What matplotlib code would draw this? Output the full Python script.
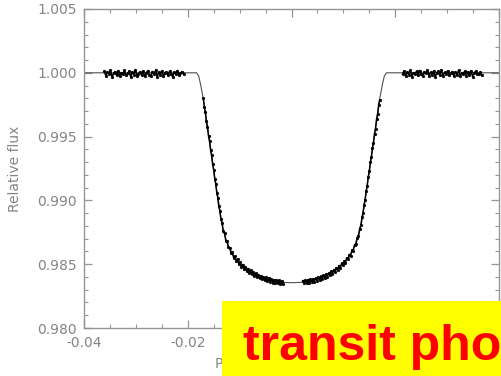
import matplotlib
matplotlib.use("Agg")
import matplotlib.pyplot as plt
from matplotlib.patches import Rectangle
from matplotlib.ticker import MultipleLocator, FormatStrFormatter

# ---------------- data ----------------
model_phase = [-0.0400, -0.0183, -0.0179, -0.0175, -0.0170, -0.0165, -0.0160, -0.0155,
               -0.0150, -0.0145, -0.0140, -0.0136, -0.0132, -0.0127, -0.0120, -0.0112,
               -0.0100, -0.0087, -0.0072, -0.0055, -0.0038, -0.0020, 0.0000,
               0.0020, 0.0038, 0.0055, 0.0072, 0.0087, 0.0100, 0.0112, 0.0120,
               0.0127, 0.0132, 0.0136, 0.0140, 0.0145, 0.0150, 0.0155, 0.0160,
               0.0165, 0.0170, 0.0175, 0.0179, 0.0183, 0.0400]
model_flux = [1.00000, 1.00000, 0.99975, 0.99905, 0.99795, 0.99655, 0.99515, 0.99375,
              0.99235, 0.99095, 0.98960, 0.98860, 0.98775, 0.98700, 0.98625, 0.98565,
              0.98505, 0.98460, 0.98420, 0.98390, 0.98370, 0.98358, 0.98355,
              0.98358, 0.98370, 0.98390, 0.98420, 0.98460, 0.98505, 0.98565, 0.98625,
              0.98700, 0.98775, 0.98860, 0.98960, 0.99095, 0.99235, 0.99375, 0.99515,
              0.99655, 0.99795, 0.99905, 0.99975, 1.00000, 1.00000]

pre_phase = [-0.0361, -0.0358, -0.0355, -0.0352, -0.0349, -0.0346, -0.0343, -0.0340,
             -0.0337, -0.0334, -0.0331, -0.0328, -0.0325, -0.0322, -0.0319, -0.0316,
             -0.0313, -0.0310, -0.0307, -0.0304, -0.0301, -0.0298, -0.0295, -0.0292,
             -0.0289, -0.0286, -0.0283, -0.0280, -0.0277, -0.0274, -0.0271, -0.0268,
             -0.0265, -0.0262, -0.0259, -0.0256, -0.0253, -0.0250, -0.0247, -0.0244,
             -0.0241, -0.0238, -0.0235, -0.0232, -0.0229, -0.0226, -0.0223, -0.0220,
             -0.0217, -0.0214, -0.0211, -0.0208]
pre_flux = [1.00012, 0.99978, 1.00004, 0.99991, 1.00021, 0.99969, 0.99995, 1.00009,
            0.99982, 1.00016, 0.99974, 1.00002, 0.99988, 1.00019, 0.99979, 0.99996,
            1.00011, 0.99968, 1.00006, 0.99985, 1.00023, 0.99976, 0.99993, 1.00008,
            0.99981, 1.00014, 0.99972, 0.99999, 1.00017, 0.99986, 0.99977, 1.00010,
            0.99990, 1.00020, 0.99971, 1.00003, 0.99984, 1.00015, 0.99975, 0.99998,
            1.00007, 0.99980, 1.00013, 0.99987, 0.99970, 1.00005, 0.99992, 1.00018,
            0.99983, 0.99997, 1.00009, 0.99988]

ingress_phase = [-0.0170, -0.0168, -0.0166, -0.0164, -0.0162, -0.0160, -0.0158, -0.0156,
                 -0.0154, -0.0152, -0.0150, -0.0148, -0.0146, -0.0144, -0.0142, -0.0140,
                 -0.0138, -0.0136,
                 -0.0134, -0.01315, -0.0129, -0.01265, -0.0124, -0.01215, -0.0119, -0.01165,
                 -0.0114, -0.01115, -0.0109, -0.01065, -0.0104, -0.01015, -0.0099, -0.00965,
                 -0.0094, -0.00915, -0.0089, -0.00865, -0.0084, -0.00815, -0.0079, -0.00765,
                 -0.0074, -0.00715, -0.0069, -0.00665, -0.0064, -0.00615, -0.0059, -0.00565,
                 -0.0054, -0.00515, -0.0049, -0.00465, -0.0044, -0.00415, -0.0039, -0.00365,
                 -0.0034, -0.00315, -0.0029, -0.00265, -0.0024, -0.00215, -0.0019, -0.00165]
ingress_flux = [0.99802, 0.99731, 0.99690, 0.99620, 0.99579, 0.99508, 0.99466, 0.99397,
                0.99355, 0.99284, 0.99242, 0.99171, 0.99130, 0.99061, 0.99022, 0.98953,
                0.98918, 0.98851,
                0.98826, 0.98758, 0.98742, 0.98684, 0.98679, 0.98632, 0.98629, 0.98588,
                0.98593, 0.98551, 0.98562, 0.98527, 0.98538, 0.98501, 0.98515, 0.98480,
                0.98497, 0.98466, 0.98478, 0.98447, 0.98465, 0.98434, 0.98451, 0.98420,
                0.98437, 0.98407, 0.98428, 0.98398, 0.98419, 0.98390, 0.98410, 0.98381,
                0.98401, 0.98373, 0.98396, 0.98368, 0.98389, 0.98362, 0.98383, 0.98356,
                0.98379, 0.98352, 0.98377, 0.98349, 0.98373, 0.98346, 0.98370, 0.98345]

egress_phase = [0.00215, 0.0024, 0.00265, 0.0029, 0.00315, 0.0034, 0.00365, 0.0039,
                0.00415, 0.0044, 0.00465, 0.0049, 0.00515, 0.0054, 0.00565, 0.0059,
                0.00615, 0.0064, 0.00665, 0.0069, 0.00715, 0.0074, 0.00765, 0.0079,
                0.00815, 0.0084, 0.00865, 0.0089, 0.00915, 0.0094, 0.00965, 0.0099,
                0.01015, 0.0104, 0.01065, 0.0109, 0.01115, 0.0114, 0.01165, 0.0119,
                0.01215, 0.0124, 0.01265, 0.0129, 0.01315, 0.0134,
                0.0136, 0.0138, 0.0140, 0.0142, 0.0144, 0.0146, 0.0148, 0.0150,
                0.0152, 0.0154, 0.0156, 0.0158, 0.0160, 0.0162, 0.0164, 0.0166,
                0.0168, 0.0170]
egress_flux = [0.98371, 0.98350, 0.98375, 0.98353, 0.98380, 0.98355, 0.98382, 0.98359,
               0.98386, 0.98364, 0.98393, 0.98370, 0.98399, 0.98377, 0.98405, 0.98384,
               0.98414, 0.98393, 0.98423, 0.98403, 0.98431, 0.98412, 0.98445, 0.98426,
               0.98458, 0.98440, 0.98471, 0.98455, 0.98489, 0.98472, 0.98506, 0.98490,
               0.98525, 0.98512, 0.98550, 0.98538, 0.98576, 0.98567, 0.98611, 0.98606,
               0.98653, 0.98656, 0.98707, 0.98719, 0.98778, 0.98806,
               0.98868, 0.98902, 0.98967, 0.99006, 0.99076, 0.99115, 0.99186, 0.99228,
               0.99299, 0.99339, 0.99411, 0.99451, 0.99522, 0.99563, 0.99635, 0.99675,
               0.99746, 0.99788]

post_phase = [0.0214, 0.0217, 0.0220, 0.0223, 0.0226, 0.0229, 0.0232, 0.0235,
              0.0238, 0.0241, 0.0244, 0.0247, 0.0250, 0.0253, 0.0256, 0.0259,
              0.0262, 0.0265, 0.0268, 0.0271, 0.0274, 0.0277, 0.0280, 0.0283,
              0.0286, 0.0289, 0.0292, 0.0295, 0.0298, 0.0301, 0.0304, 0.0307,
              0.0310, 0.0313, 0.0316, 0.0319, 0.0322, 0.0325, 0.0328, 0.0331,
              0.0334, 0.0337, 0.0340, 0.0343, 0.0346, 0.0349, 0.0352, 0.0355,
              0.0358, 0.0361, 0.0364, 0.0367]
post_flux = [0.99990, 1.00015, 0.99975, 1.00006, 0.99984, 1.00022, 0.99970, 1.00001,
             0.99993, 1.00012, 0.99979, 1.00018, 0.99987, 0.99972, 1.00009, 0.99996,
             1.00020, 0.99977, 1.00004, 0.99983, 1.00014, 0.99969, 0.99998, 1.00011,
             0.99986, 1.00024, 0.99974, 1.00003, 0.99989, 1.00016, 0.99980, 0.99995,
             1.00010, 0.99973, 1.00007, 0.99985, 1.00019, 0.99978, 1.00000, 0.99991,
             1.00013, 0.99976, 1.00008, 0.99982, 1.00017, 0.99971, 0.99999, 1.00012,
             0.99987, 0.99994, 1.00005, 0.99979]

x_limits = (-0.04, 0.04)
y_limits = (0.980, 1.005)
y_label = "Relative flux"
x_label = "Planetary orbital phase"
banner_text = "transit photometry"

# ---------------- figure ----------------
W, H = 501, 376
fig = plt.figure(figsize=(W / 100, H / 100), dpi=100)
ax = fig.add_axes([84 / W, 48 / H, 415 / W, 319 / H])

axis_grey = "#959595"
label_grey = "#858585"

ax.plot(model_phase, model_flux, color="#505050", lw=0.8, zorder=2)
for ph, fl in [(pre_phase, pre_flux), (ingress_phase, ingress_flux),
               (egress_phase, egress_flux), (post_phase, post_flux)]:
    ax.plot(ph, fl, linestyle="-", lw=1.1, color="black", marker="o", markersize=2.0,
            markerfacecolor="black", markeredgecolor="black", markeredgewidth=0.3,
            zorder=3)

ax.set_xlim(*x_limits)
ax.set_ylim(*y_limits)
ax.xaxis.set_major_locator(MultipleLocator(0.02))
ax.xaxis.set_minor_locator(MultipleLocator(0.005))
ax.yaxis.set_major_locator(MultipleLocator(0.005))
ax.yaxis.set_minor_locator(MultipleLocator(0.001))
ax.xaxis.set_major_formatter(FormatStrFormatter("%.2f"))
ax.yaxis.set_major_formatter(FormatStrFormatter("%.3f"))

ax.tick_params(which="both", direction="in", top=True, right=True,
               color=axis_grey, labelcolor=label_grey, labelsize=10)
ax.tick_params(which="major", length=6, width=0.9)
ax.tick_params(which="minor", length=3, width=0.8)
ax.tick_params(axis="x", pad=6)
ax.tick_params(axis="y", pad=5)
for s in ax.spines.values():
    s.set_color(axis_grey)
    s.set_linewidth(1.0)

fig.text(15 / W, 1 - 168.5 / H, y_label, rotation=90, ha="center", va="center",
         fontsize=10, color=label_grey)
fig.text(296 / W, 1 - 364 / H, x_label, ha="center", va="center",
         fontsize=10, color=label_grey)

# yellow banner with red text
fig.add_artist(Rectangle((222 / W, 0), 1 - 222 / W, (376 - 301) / H,
                         transform=fig.transFigure, facecolor="#ffff00",
                         edgecolor="none", zorder=10))
fig.text(243 / W, 16 / H, banner_text, fontsize=36, fontweight="bold",
         color="#ff0000", family="Liberation Sans", ha="left", va="baseline",
         zorder=11)

fig.savefig("out.png", dpi=100)
